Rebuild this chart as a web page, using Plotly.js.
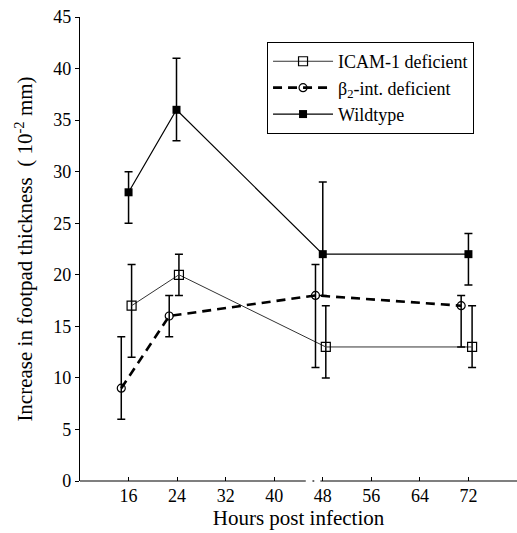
<!DOCTYPE html>
<html>
<head>
<meta charset="utf-8">
<script src="https://cdn.plot.ly/plotly-3.0.1.min.js"></script>
<style>html,body{margin:0;padding:0;background:#fff;}#chart{width:517px;height:533px;}</style>
</head>
<body>
<div id="chart"></div>
<script>
// Hours post infection (positions, series slightly offset)
const icamX = [16.5, 24.3, 48.5, 72.6];
const icamY = [17, 20, 13, 13];
const icamPlus = [4, 2, 4, 4];
const icamMinus = [5, 2, 3, 2];

const betaX = [14.8, 22.7, 46.8, 70.8];
const betaY = [9, 16, 18, 17];
const betaPlus = [5, 2, 3, 1];
const betaMinus = [3, 2, 7, 4];

const wildX = [16, 23.9, 48, 72];
const wildY = [28, 36, 22, 22];
const wildPlus = [2, 5, 7, 2];
const wildMinus = [3, 3, 4, 3];

const xTicks = [16, 24, 32, 40, 48, 56, 64, 72];
const yTicks = [0, 5, 10, 15, 20, 25, 30, 35, 40, 45];

const serif = 'Liberation Serif, Times New Roman, serif';

function err(plus, minus) {
  return {type: 'data', symmetric: false, array: plus, arrayminus: minus,
          color: '#000', thickness: 1.5, width: 4};
}

const traces = [
  {x: icamX, y: icamY, name: 'ICAM-1 deficient', mode: 'lines+markers',
   line: {color: '#333', width: 1, dash: 'solid'},
   marker: {symbol: 'square-open', size: 9, color: '#000', line: {width: 1.2}},
   error_y: err(icamPlus, icamMinus)},
  {x: betaX, y: betaY, name: 'β<sub>2</sub>-int. deficient', mode: 'lines+markers',
   line: {color: '#000', width: 2.6, dash: '9px,6px'},
   marker: {symbol: 'circle-open', size: 8, color: '#000', line: {width: 1.2}},
   error_y: err(betaPlus, betaMinus)},
  {x: wildX, y: wildY, name: 'Wildtype', mode: 'lines+markers',
   line: {color: '#000', width: 1.2, dash: 'solid'},
   marker: {symbol: 'square', size: 8, color: '#000'},
   error_y: err(wildPlus, wildMinus)}
];

const layout = {
  width: 517, height: 533,
  margin: {l: 80, r: 0, t: 17, b: 52},
  paper_bgcolor: '#fff', plot_bgcolor: '#fff',
  showlegend: true,
  font: {family: serif, color: '#000', size: 18},
  xaxis: {
    range: [8, 80], tickvals: xTicks, ticktext: xTicks.map(String),
    ticks: 'inside', ticklen: 4, tickwidth: 1, tickcolor: '#000',
    showline: false, showgrid: false, zeroline: false,
    tickfont: {family: serif, size: 18}, ticklabelstandoff: 2,
    title: {text: 'Hours post infection', font: {family: serif, size: 21}, standoff: 2}
  },
  yaxis: {
    range: [0, 45], tickvals: yTicks, ticktext: yTicks.map(String),
    ticks: 'outside', ticklen: 4, tickwidth: 1, tickcolor: '#000',
    showline: true, linecolor: '#000', linewidth: 1.2,
    showgrid: false, zeroline: false,
    tickfont: {family: serif, size: 18},
    title: {text: 'Increase in footpad thickness  ( 10<sup>-2</sup> mm)', font: {family: serif, size: 21}, standoff: 14}
  },
  legend: {
    x: 0.428, y: 0.946, xanchor: 'left', yanchor: 'top',
    bgcolor: '#fff', bordercolor: '#000', borderwidth: 1,
    font: {family: serif, size: 18}, tracegroupgap: 0, itemwidth: 60
  },
  shapes: [
    {type: 'line', xref: 'x', yref: 'paper', x0: 8, x1: 45.2, y0: 0, y1: 0, line: {color: '#000', width: 1.2}},
    {type: 'line', xref: 'x', yref: 'paper', x0: 46.3, x1: 46.6, y0: 0, y1: 0, line: {color: '#000', width: 1.2}},
    {type: 'line', xref: 'x', yref: 'paper', x0: 47.6, x1: 80, y0: 0, y1: 0, line: {color: '#000', width: 1.2}}
  ]
};

Plotly.newPlot('chart', traces, layout, {displayModeBar: false, staticPlot: true});
</script>
</body>
</html>
